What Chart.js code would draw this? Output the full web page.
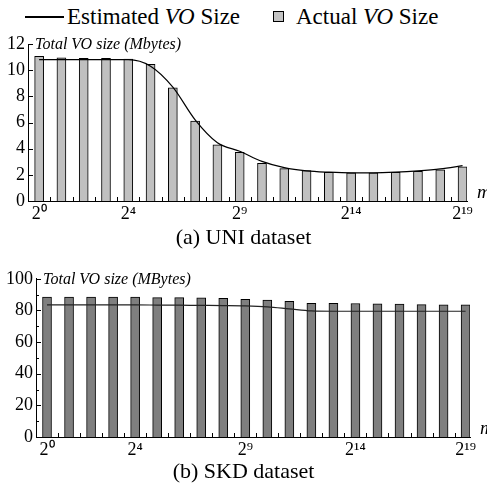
<!DOCTYPE html>
<html>
<head>
<meta charset="utf-8">
<script src="https://cdn.jsdelivr.net/npm/chart.js@4/dist/chart.umd.min.js"></script>
<style>
  body { margin: 0; background: #fff; }
  #page { position: relative; width: 487px; height: 485px; overflow: hidden; font-family: "Liberation Serif", "Times New Roman", serif; color: #000; }
  canvas { position: absolute; left: 0; }
  .txt { position: absolute; font-size: 23px; line-height: 22px; white-space: nowrap; }
  .caption { left: 0; width: 487px; text-align: center; font-size: 22px; }
</style>
</head>
<body>
<div id="page">
  <div style="position:absolute;left:25px;top:16px;width:39px;height:1.5px;background:#000"></div>
  <div class="txt" style="left:67px;top:6px">Estimated <i>VO</i> Size</div>
  <div style="position:absolute;left:273px;top:11px;width:11px;height:11px;box-sizing:border-box;border:1px solid #000;background:#c4c4c4"></div>
  <div class="txt" style="left:296px;top:6px">Actual <i>VO</i> Size</div>

  <canvas id="chartA" width="487" height="200" style="top:30px"></canvas>
  <div class="txt caption" style="top:226px">(a) UNI dataset</div>

  <canvas id="chartB" width="487" height="200" style="top:265px"></canvas>
  <div class="txt caption" style="top:460px">(b) SKD dataset</div>
</div>
<script>
// m = 2^0 .. 2^19
const exponents = [0, 1, 2, 3, 4, 5, 6, 7, 8, 9, 10, 11, 12, 13, 14, 15, 16, 17, 18, 19];
const labelExponents = [0, 4, 9, 14, 19];

const uniActual = [11.05, 10.95, 10.9, 10.9, 10.85, 10.45, 8.65, 6.1, 4.3, 3.72, 2.88, 2.47, 2.32, 2.2, 2.15, 2.15, 2.2, 2.27, 2.38, 2.62];
const uniEstimated = [10.8, 10.8, 10.8, 10.8, 10.8, 10.3, 8.7, 6.2, 4.45, 3.8, 3.03, 2.55, 2.3, 2.2, 2.15, 2.15, 2.2, 2.3, 2.45, 2.7];

const skdActual = [88.5, 88.5, 88.5, 88.5, 88.5, 88.1, 88.1, 88, 87.6, 87, 86.6, 85.8, 84.5, 84.5, 84.4, 84.1, 84, 83.7, 83.6, 83.6];
const skdEstimated = [83.5, 83.5, 83.5, 83.5, 83.5, 83.4, 83.3, 83.2, 83.1, 82.9, 82.3, 81, 79.7, 79.5, 79.5, 79.5, 79.5, 79.5, 79.5, 79.5];

const SUP = { '0': '\u2070', '1': '\u00b9', '2': '\u00b2', '3': '\u00b3', '4': '\u2074', '5': '\u2075', '6': '\u2076', '7': '\u2077', '8': '\u2078', '9': '\u2079' };
function powLabel(e) {
  return '2' + String(e).split('').map(d => SUP[d]).join('');
}

// short ticks pointing into the plot, plus the in-plot axis title and the "m" label
const innerMarks = {
  id: 'innerMarks',
  beforeDatasetsDraw(chart, args, opts) {
    const ctx = chart.ctx;
    const area = chart.chartArea;
    const xs = chart.scales.x;
    const ys = chart.scales.y;
    ctx.save();
    ctx.strokeStyle = '#000';
    ctx.lineWidth = 1;
    ctx.beginPath();
    exponents.slice(1).forEach(e => {
      const px = Math.round(xs.getPixelForValue(e - 0.5)) + 0.5;
      ctx.moveTo(px, area.bottom);
      ctx.lineTo(px, area.bottom - 4);
    });
    ys.ticks.forEach(t => {
      const py = Math.round(ys.getPixelForValue(t.value)) + 0.5;
      ctx.moveTo(area.left, py);
      ctx.lineTo(area.left + 5, py);
    });
    (opts.minorY || []).forEach(v => {
      const py = Math.round(ys.getPixelForValue(v)) + 0.5;
      ctx.moveTo(area.left, py);
      ctx.lineTo(area.left + 3, py);
    });
    ctx.stroke();
    ctx.restore();
  },
  afterDraw(chart, args, opts) {
    const ctx = chart.ctx;
    const area = chart.chartArea;
    ctx.save();
    ctx.fillStyle = '#000';
    ctx.textBaseline = 'middle';
    ctx.font = 'italic 16px "Liberation Serif"';
    ctx.fillText(opts.title, area.left + 7, area.top + 1);
    ctx.font = 'italic 19px "Liberation Serif"';
    ctx.fillText('m', area.right + 10, area.bottom - 8);
    ctx.restore();
  }
};

function makeChart(id, actual, estimated, cfg) {
  const ctx = document.getElementById(id);
  return new Chart(ctx, {
    type: 'bar',
    data: {
      datasets: [
        {
          type: 'line',
          label: 'Estimated VO Size',
          data: exponents.map((e, i) => ({ x: e, y: estimated[i] })),
          borderColor: cfg.lineColor,
          borderWidth: 1.2,
          pointRadius: 0,
          cubicInterpolationMode: 'monotone',
          order: 0
        },
        {
          label: 'Actual VO Size',
          data: exponents.map((e, i) => ({ x: e, y: actual[i] })),
          backgroundColor: cfg.barColor,
          borderColor: '#000',
          borderWidth: 1,
          barThickness: 9,
          order: 1
        }
      ]
    },
    options: {
      responsive: false,
      animation: false,
      devicePixelRatio: 1,
      layout: { padding: { top: cfg.top, right: cfg.right, left: 0, bottom: 0 } },
      plugins: {
        legend: { display: false },
        tooltip: { enabled: false },
        innerMarks: { title: cfg.title, minorY: cfg.minorY }
      },
      scales: {
        x: {
          type: 'linear',
          offset: false,
          min: -0.5,
          max: 19.2,
          grid: { display: false, drawTicks: false, offset: false },
          border: { display: true, color: '#000', width: 1 },
          afterBuildTicks: scale => { scale.ticks = labelExponents.map(v => ({ value: v })); },
          afterFit: scale => { scale.height = cfg.xHeight; },
          ticks: {
            autoSkip: false,
            maxRotation: 0,
            padding: 2,
            color: '#000',
            font: { family: '"Liberation Serif"', size: 18 },
            callback: v => powLabel(v)
          }
        },
        y: {
          min: 0,
          max: cfg.yMax,
          grid: { display: false, drawTicks: false },
          border: { display: true, color: '#000', width: 1 },
          afterFit: scale => { scale.width = cfg.yWidth; },
          ticks: {
            stepSize: cfg.yStep,
            padding: 3,
            color: '#000',
            font: { family: '"Liberation Serif"', size: 18 }
          }
        }
      }
    },
    plugins: [innerMarks]
  });
}

makeChart('chartA', uniActual, uniEstimated, {
  title: 'Total VO size (Mbytes)',
  barColor: '#c0c0c0',
  lineColor: '#000',
  yMax: 12, yStep: 2, minorY: [],
  top: 14, right: 20, yWidth: 28, xHeight: 29
});

makeChart('chartB', skdActual, skdEstimated, {
  title: 'Total VO size (MBytes)',
  barColor: '#7f7f7f',
  lineColor: '#222',
  yMax: 100, yStep: 20, minorY: [10, 30, 50, 70, 90],
  top: 13, right: 17, yWidth: 36, xHeight: 28
});
</script>
</body>
</html>
